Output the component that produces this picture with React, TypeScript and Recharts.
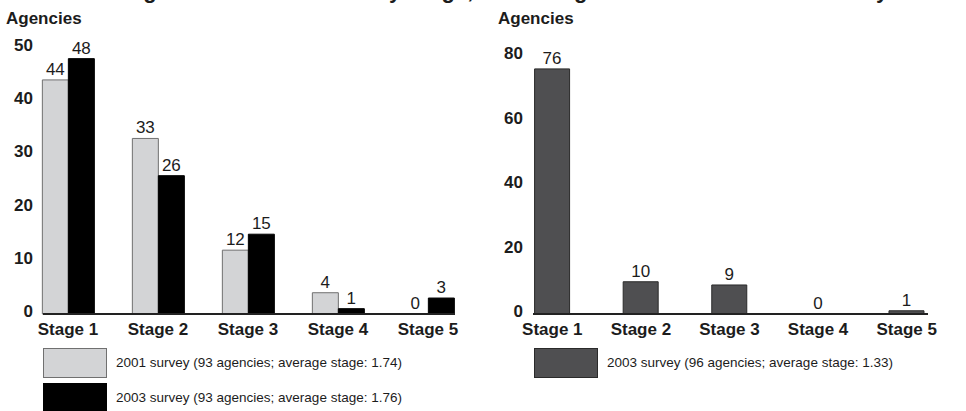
import React from 'react';
import { BarChart, Bar, XAxis, YAxis, LabelList } from 'recharts';

const stages = ['Stage 1', 'Stage 2', 'Stage 3', 'Stage 4', 'Stage 5'];
const survey2001 = [44, 33, 12, 4, 0];
const survey2003 = [48, 26, 15, 1, 3];
const survey2003All = [76, 10, 9, 0, 1];
const leftTicks = [0, 10, 20, 30, 40, 50];
const rightTicks = [0, 20, 40, 60, 80];

const FONT = '"Liberation Sans", Arial, Helvetica, sans-serif';
const TEXT = '#1c1c1c';
const LIGHT = '#d3d4d6';
const DARK = '#4f4f51';

const leftData = stages.map((s, i) => ({ stage: s, a: survey2001[i], b: survey2003[i] }));
const rightData = stages.map((s, i) => ({ stage: s, v: survey2003All[i] }));

// y-axis tick: bold numbers, nudged up a little like the original
const YTick = (props: any) => {
  const { x, y, payload } = props;
  return (
    <text x={x} y={y} dy={3} textAnchor="end" fontFamily={FONT} fontWeight={700} fontSize={17} fill={TEXT}>
      {payload.value}
    </text>
  );
};

const XTick = (props: any) => {
  const { x, y, payload } = props;
  return (
    <text x={x} y={y} dy={13} textAnchor="middle" fontFamily={FONT} fontWeight={700} fontSize={17} fill={TEXT}>
      {payload.value}
    </text>
  );
};

const labelStyle = { fontFamily: FONT, fontSize: 17, fill: TEXT };

function LegendRow({ left, top, color, border, text }: { left: number; top: number; color: string; border: string; text: string }) {
  return (
    <>
      <div
        style={{
          position: 'absolute',
          left,
          top,
          width: 62,
          height: 28,
          background: color,
          border: `1px solid ${border}`,
        }}
      />
      <div
        style={{
          position: 'absolute',
          left: left + 73,
          top: top + 7,
          fontFamily: FONT,
          fontSize: 13.5,
          color: TEXT,
          lineHeight: '16px',
          whiteSpace: 'nowrap',
        }}
      >
        {text}
      </div>
    </>
  );
}

export default function App() {
  return (
    <div style={{ position: 'absolute', left: 0, top: 0, width: 966, height: 411, overflow: 'hidden', background: '#fff' }}>
      {/* title, cut off at the top of the picture */}
      <div
        style={{
          position: 'absolute',
          left: 12,
          top: -20,
          fontFamily: FONT,
          fontWeight: 700,
          fontSize: 22,
          lineHeight: '22px',
          color: TEXT,
          whiteSpace: 'nowrap',
        }}
      >
        Number of Agencies at Each Maturity Stage, According to the 2001 and 2003 Surveys
      </div>

      <div style={{ position: 'absolute', left: 6, top: 9, fontFamily: FONT, fontWeight: 700, fontSize: 17, color: TEXT }}>
        Agencies
      </div>
      <div style={{ position: 'absolute', left: 498, top: 9, fontFamily: FONT, fontWeight: 700, fontSize: 17, color: TEXT }}>
        Agencies
      </div>

      <div style={{ position: 'absolute', left: 0, top: 0 }}>
        <BarChart
          width={480}
          height={345}
          data={leftData}
          margin={{ top: 48, right: 25, bottom: 0, left: 0 }}
          barCategoryGap="21.5%"
          barGap={0}
        >
          <XAxis
            dataKey="stage"
            height={31}
            padding={{ left: -20, right: -18 }}
            axisLine={{ stroke: '#222', strokeWidth: 2 }}
            tickLine={false}
            tick={<XTick />}
            interval={0}
          />
          <YAxis
            width={43}
            domain={[0, 50]}
            ticks={leftTicks}
            axisLine={false}
            tickLine={false}
            tickMargin={4}
            tick={<YTick />}
          />
          <Bar dataKey="a" fill={LIGHT} stroke="#707070" strokeWidth={1} minPointSize={0.01} isAnimationActive={false}>
            <LabelList dataKey="a" position="top" offset={5} style={labelStyle} />
          </Bar>
          <Bar dataKey="b" fill="#000" stroke="#000" strokeWidth={1} minPointSize={0.01} isAnimationActive={false}>
            <LabelList dataKey="b" position="top" offset={5} style={labelStyle} />
          </Bar>
        </BarChart>
      </div>

      <div style={{ position: 'absolute', left: 480, top: 0 }}>
        <BarChart
          width={486}
          height={345}
          data={rightData}
          margin={{ top: 56, right: 38, bottom: 0, left: 0 }}
          barCategoryGap="30%"
        >
          <XAxis
            dataKey="stage"
            height={31}
            padding={{ left: -25, right: -23 }}
            axisLine={{ stroke: '#222', strokeWidth: 2 }}
            tickLine={false}
            tick={<XTick />}
            interval={0}
          />
          <YAxis
            width={53}
            domain={[0, 80]}
            ticks={rightTicks}
            axisLine={false}
            tickLine={false}
            tickMargin={4}
            tick={<YTick />}
          />
          <Bar dataKey="v" fill={DARK} stroke="#2a2a2a" strokeWidth={1} minPointSize={0.01} isAnimationActive={false}>
            <LabelList dataKey="v" position="top" offset={5} style={labelStyle} />
          </Bar>
        </BarChart>
      </div>

      <LegendRow left={43} top={348} color={LIGHT} border="#707070" text="2001 survey (93 agencies; average stage: 1.74)" />
      <LegendRow left={43} top={383} color="#000" border="#000" text="2003 survey (93 agencies; average stage: 1.76)" />
      <LegendRow left={534} top={348} color={DARK} border="#2a2a2a" text="2003 survey (96 agencies; average stage: 1.33)" />
    </div>
  );
}
